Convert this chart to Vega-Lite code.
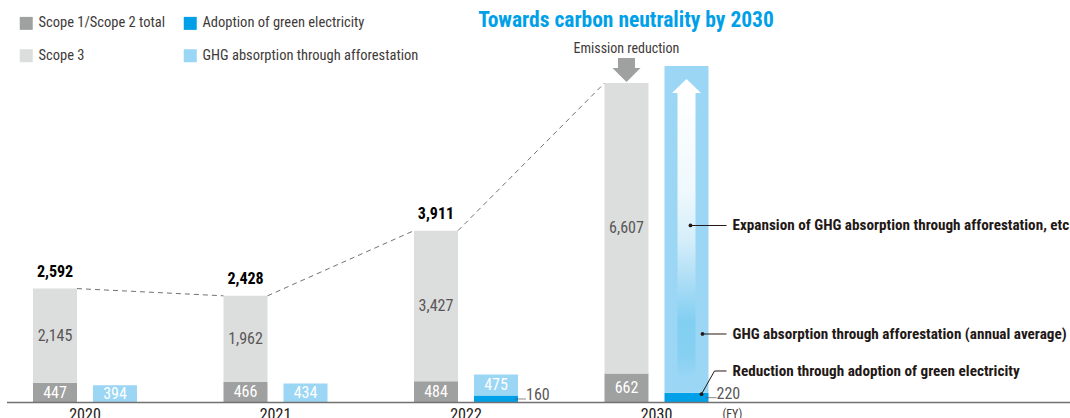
{
  "$schema": "https://vega.github.io/schema/vega-lite/v6.json",
  "width": 1063,
  "height": 395.5,
  "autosize": "none",
  "padding": {"left": 7, "top": 7, "right": 0, "bottom": 15.5},
  "config": {
    "view": {"stroke": null},
    "font": "Liberation Sans Narrow, Arial Narrow, Roboto Condensed, DejaVu Sans Condensed, sans-serif"
  },
  "datasets": {
    "bars": [
      {"year": "2020", "side": "Emissions", "category": "Scope 1/Scope 2 total", "value": 447, "order": 1},
      {"year": "2020", "side": "Emissions", "category": "Scope 3", "value": 2145, "order": 2},
      {"year": "2020", "side": "Offsets", "category": "GHG absorption through afforestation", "value": 394, "order": 2},
      {"year": "2021", "side": "Emissions", "category": "Scope 1/Scope 2 total", "value": 466, "order": 1},
      {"year": "2021", "side": "Emissions", "category": "Scope 3", "value": 1962, "order": 2},
      {"year": "2021", "side": "Offsets", "category": "GHG absorption through afforestation", "value": 434, "order": 2},
      {"year": "2022", "side": "Emissions", "category": "Scope 1/Scope 2 total", "value": 484, "order": 1},
      {"year": "2022", "side": "Emissions", "category": "Scope 3", "value": 3427, "order": 2},
      {"year": "2022", "side": "Offsets", "category": "Adoption of green electricity", "value": 160, "order": 1},
      {"year": "2022", "side": "Offsets", "category": "GHG absorption through afforestation", "value": 475, "order": 2},
      {"year": "2030", "side": "Emissions", "category": "Scope 1/Scope 2 total", "value": 662, "order": 1},
      {"year": "2030", "side": "Emissions", "category": "Scope 3", "value": 6607, "order": 2},
      {"year": "2030", "side": "Offsets", "category": "Adoption of green electricity", "value": 220, "order": 1},
      {"year": "2030", "side": "Offsets", "category": "GHG absorption through afforestation", "value": 7440, "order": 2}
    ],
    "totals": [
      {"year": "2020", "total": 2592},
      {"year": "2021", "total": 2428},
      {"year": "2022", "total": 3911}
    ],
    "connectors": [
      {"year": "2020", "next": "2021", "total": 2592, "nextTotal": 2428},
      {"year": "2021", "next": "2022", "total": 2428, "nextTotal": 3911},
      {"year": "2022", "next": "2030", "total": 3911, "nextTotal": 7269}
    ],
    "notes": [
      {"year": "2030", "label": "Expansion of GHG absorption through afforestation, etc", "value": 4028},
      {"year": "2030", "label": "GHG absorption through afforestation (annual average)", "value": 1559},
      {"year": "2030", "label": "Reduction through adoption of green electricity", "value": 717}
    ]
  },
  "layer": [
    {
      "data": {"name": "bars"},
      "transform": [{"filter": "datum.side === 'Emissions'"}],
      "mark": {"type": "bar", "width": 44, "xOffset": -30},
      "encoding": {
        "x": {
          "field": "year", "type": "nominal",
          "scale": {"domain": ["2020", "2021", "2022", "2030"], "range": [0, 727.5], "paddingInner": 0.37, "paddingOuter": 0.0945},
          "axis": {"title": null, "domain": false, "ticks": false, "tickSize": 0, "labelAngle": 0, "labelFontSize": 16, "labelColor": "#231815", "labelPadding": 4}
        },
        "y": {"field": "value", "type": "quantitative", "stack": "zero", "scale": {"domain": [0, 9000], "nice": false}, "axis": null},
        "color": {
          "field": "category", "type": "nominal",
          "scale": {
            "domain": ["Scope 1/Scope 2 total", "Adoption of green electricity", "Scope 3", "GHG absorption through afforestation"],
            "range": ["#9fa0a0", "#00a0e9", "#dcdddd", "#9bd6f5"]
          },
          "legend": {
            "title": null, "orient": "none", "legendX": 12, "legendY": 9, "direction": "horizontal", "columns": 2,
            "padding": 0, "symbolType": "square", "symbolSize": 169, "symbolStrokeWidth": 0,
            "labelFontSize": 14.5, "labelColor": "#3e3a39", "labelOffset": 5, "columnPadding": 17, "rowPadding": 17.5, "labelLimit": 400
          }
        },
        "order": {"field": "order", "type": "quantitative"}
      }
    },
    {
      "data": {"name": "bars"},
      "transform": [{"filter": "datum.side === 'Offsets'"}],
      "mark": {"type": "bar", "width": 44, "xOffset": 30},
      "encoding": {
        "x": {"field": "year", "type": "nominal"},
        "y": {"field": "value", "type": "quantitative", "stack": "zero"},
        "color": {"field": "category", "type": "nominal"},
        "order": {"field": "order", "type": "quantitative"}
      }
    },
    {
      "data": {"values": [{}]},
      "mark": {
        "type": "bar", "width": 18, "xOffset": 30,
        "color": {
          "gradient": "linear", "x1": 0, "y1": 0, "x2": 0, "y2": 1,
          "stops": [
            {"offset": 0, "color": "#ffffff"},
            {"offset": 0.35, "color": "#eef8fd"},
            {"offset": 0.52, "color": "#d4eefa"},
            {"offset": 0.66, "color": "#acddf5"},
            {"offset": 0.8, "color": "#82cff2"},
            {"offset": 0.92, "color": "#86d0f2"},
            {"offset": 1, "color": "#9bd6f5"}
          ]
        }
      },
      "encoding": {
        "x": {"datum": "2030"},
        "y": {"datum": 558},
        "y2": {"datum": 7044}
      }
    },
    {
      "data": {"values": [{}]},
      "mark": {"type": "point", "shape": "M0,-1L2.07,1L-2.07,1Z", "size": 196, "filled": true, "opacity": 1, "color": "#ffffff", "strokeWidth": 0, "xOffset": 30},
      "encoding": {"x": {"datum": "2030"}, "y": {"datum": 7203}}
    },
    {
      "data": {"values": [{}]},
      "mark": {"type": "point", "shape": "M-0.71,-1L0.71,-1L0.71,-0.17L1.17,-0.17L0,1L-1.17,-0.17L-0.71,-0.17Z", "size": 576, "filled": true, "opacity": 1, "color": "#9fa0a0", "strokeWidth": 0, "xOffset": -30},
      "encoding": {"x": {"datum": "2030"}, "y": {"datum": 7567}}
    },
    {
      "data": {"values": [{}]},
      "mark": {"type": "text", "text": "Emission reduction", "fontSize": 14, "color": "#3e3a39", "baseline": "middle", "xOffset": -30},
      "encoding": {"x": {"datum": "2030"}, "y": {"datum": 8034}}
    },
    {
      "data": {"values": [{}]},
      "mark": {"type": "text", "text": "Towards carbon neutrality by 2030", "fontSize": 21.5, "fontWeight": "bold", "color": "#00a0e9", "baseline": "middle", "xOffset": -30.5},
      "encoding": {"x": {"datum": "2030"}, "y": {"datum": 8675}}
    },
    {
      "data": {"name": "connectors"},
      "mark": {"type": "rule", "xOffset": -8, "x2Offset": -52, "color": "#727171", "strokeWidth": 1, "strokeDash": [5, 4]},
      "encoding": {
        "x": {"field": "year", "type": "nominal"},
        "x2": {"field": "next"},
        "y": {"field": "total", "type": "quantitative"},
        "y2": {"field": "nextTotal"}
      }
    },
    {
      "data": {"name": "totals"},
      "mark": {"type": "text", "fontSize": 16, "fontWeight": "bold", "color": "#000000", "baseline": "alphabetic", "dy": -11.5, "xOffset": -30},
      "encoding": {
        "x": {"field": "year", "type": "nominal"},
        "y": {"field": "total", "type": "quantitative"},
        "text": {"field": "total", "type": "quantitative", "format": ","}
      }
    },
    {
      "data": {"name": "bars"},
      "transform": [{"filter": "datum.side === 'Emissions'"}],
      "mark": {"type": "text", "fontSize": 16, "baseline": "middle", "xOffset": -30},
      "encoding": {
        "x": {"field": "year", "type": "nominal"},
        "y": {"field": "value", "type": "quantitative", "stack": "zero", "bandPosition": 0.5},
        "detail": {"field": "category", "type": "nominal"},
        "order": {"field": "order", "type": "quantitative"},
        "text": {"field": "value", "type": "quantitative", "format": ","},
        "color": {"condition": {"test": "datum.category === 'Scope 3'", "value": "#595757"}, "value": "#ffffff"}
      }
    },
    {
      "data": {"name": "bars"},
      "transform": [{"filter": "datum.side === 'Offsets'"}],
      "mark": {"type": "text", "fontSize": 16, "baseline": "middle", "xOffset": 30, "color": "#ffffff"},
      "encoding": {
        "x": {"field": "year", "type": "nominal"},
        "y": {"field": "value", "type": "quantitative", "stack": "zero", "bandPosition": 0.5},
        "detail": {"field": "category", "type": "nominal"},
        "order": {"field": "order", "type": "quantitative"},
        "text": {"field": "value", "type": "quantitative", "format": ","},
        "opacity": {"condition": {"test": "datum.category === 'GHG absorption through afforestation' && datum.year !== '2030'", "value": 1}, "value": 0}
      }
    },
    {
      "data": {"name": "bars"},
      "transform": [{"filter": "datum.category === 'Adoption of green electricity'"}],
      "mark": {"type": "text", "fontSize": 16, "baseline": "middle", "align": "left", "xOffset": 60, "dy": -4, "color": "#595757"},
      "encoding": {
        "x": {"field": "year", "type": "nominal"},
        "y": {"field": "value", "type": "quantitative", "stack": "zero", "bandPosition": 0.5},
        "detail": {"field": "category", "type": "nominal"},
        "text": {"field": "value", "type": "quantitative", "format": ","}
      }
    },
    {
      "data": {"name": "bars"},
      "transform": [{"filter": "datum.category === 'Adoption of green electricity'"}],
      "mark": {"type": "tick", "size": 11, "thickness": 1, "xOffset": 54.5, "color": "#595757"},
      "encoding": {
        "x": {"field": "year", "type": "nominal"},
        "y": {"field": "value", "type": "quantitative", "stack": "zero", "bandPosition": 0.5},
        "detail": {"field": "category", "type": "nominal"}
      }
    },
    {
      "data": {"values": [{}]},
      "mark": {"type": "rule", "xOffset": 34, "x2Offset": 70, "color": "#231815", "strokeWidth": 1},
      "encoding": {"x": {"datum": "2030"}, "x2": {"datum": "2030"}, "y": {"datum": 4028}}
    },
    {
      "data": {"values": [{}]},
      "mark": {"type": "rule", "xOffset": 46, "x2Offset": 70, "color": "#231815", "strokeWidth": 1},
      "encoding": {"x": {"datum": "2030"}, "x2": {"datum": "2030"}, "y": {"datum": 1559}}
    },
    {
      "data": {"values": [{}]},
      "mark": {"type": "rule", "xOffset": 45, "x2Offset": 58, "color": "#231815", "strokeWidth": 1},
      "encoding": {"x": {"datum": "2030"}, "x2": {"datum": "2030"}, "y": {"datum": 190}, "y2": {"datum": 717}}
    },
    {
      "data": {"values": [{}]},
      "mark": {"type": "rule", "xOffset": 58, "x2Offset": 70, "color": "#231815", "strokeWidth": 1},
      "encoding": {"x": {"datum": "2030"}, "x2": {"datum": "2030"}, "y": {"datum": 717}}
    },
    {
      "data": {"values": [{}]},
      "mark": {"type": "point", "filled": true, "size": 14, "opacity": 1, "color": "#231815", "xOffset": 34},
      "encoding": {"x": {"datum": "2030"}, "y": {"datum": 4028}}
    },
    {
      "data": {"values": [{}]},
      "mark": {"type": "point", "filled": true, "size": 14, "opacity": 1, "color": "#231815", "xOffset": 46},
      "encoding": {"x": {"datum": "2030"}, "y": {"datum": 1559}}
    },
    {
      "data": {"values": [{}]},
      "mark": {"type": "point", "filled": true, "size": 14, "opacity": 1, "color": "#231815", "xOffset": 45},
      "encoding": {"x": {"datum": "2030"}, "y": {"datum": 190}}
    },
    {
      "data": {"name": "notes"},
      "mark": {"type": "text", "fontSize": 15.2, "fontWeight": "bold", "color": "#231815", "align": "left", "baseline": "middle", "xOffset": 76},
      "encoding": {
        "x": {"field": "year", "type": "nominal"},
        "y": {"field": "value", "type": "quantitative"},
        "text": {"field": "label", "type": "nominal"}
      }
    },
    {
      "data": {"values": [{}]},
      "mark": {"type": "text", "text": "(FY)", "fontSize": 12, "color": "#3e3a39", "align": "left", "baseline": "top", "dy": 6, "xOffset": 66},
      "encoding": {"x": {"datum": "2030"}, "y": {"datum": 0}}
    },
    {
      "data": {"values": [{}]},
      "mark": {"type": "rule", "color": "#727171", "strokeWidth": 1.3},
      "encoding": {"y": {"datum": 0}}
    }
  ]
}
